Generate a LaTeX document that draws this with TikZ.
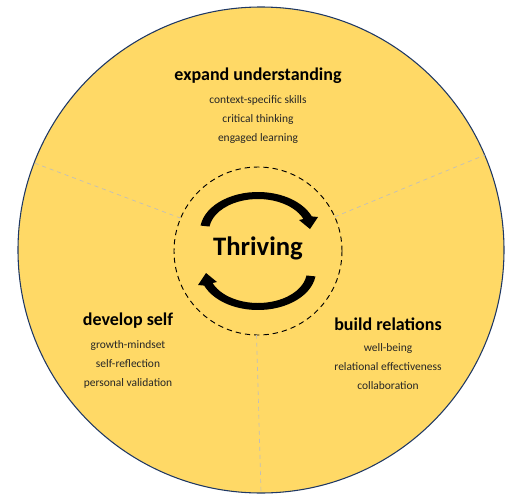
\documentclass[tikz,border=0pt]{standalone}
\usepackage{fontspec}
\setmainfont{Carlito}
\usepackage{xcolor}
\usepackage{tikz}
\usetikzlibrary{positioning}
\definecolor{wheelfill}{RGB}{255,217,102}
\definecolor{wheelline}{RGB}{31,56,100}
\definecolor{divline}{RGB}{190,190,190}

\begin{document}
\begin{tikzpicture}[
    x=0.75pt, y=-0.75pt,
    wheel/.style={circle, draw=wheelline, line width=0.8pt, fill=wheelfill, inner sep=0pt, outer sep=0pt},
    hub/.style={circle, draw, line width=0.7pt, dash pattern=on 4pt off 3pt, inner sep=0pt, outer sep=0pt},
    divider/.style={draw=divline, dashed, line width=0.5pt},
    title/.style={font=\fontsize{13.5}{16}\selectfont\bfseries},
    items/.style={font=\fontsize{8.6}{14.25}\selectfont, align=center, text=black!85},
    turn/.style={fill=black}
  ]
  \useasboundingbox (0,0) rectangle (525,500);

  % Wheel
  \node[wheel, minimum size=364.5pt] (W) at (261,250) {};
  \node[hub, minimum size=126pt] (H) at (258,251) {};

  % Dividers
  \draw[divider] (H.157) -- (W.159);
  \draw[divider] (H.24) -- (W.23);
  \draw[divider] (H.269) -- (W.270);

  % Cycle arrows
  \begin{scope}[shift={(258,251)}, yscale=-1]
    \fill[turn, shift={(0,20)}] (172:58 and 39) arc[start angle=172, end angle=22, x radius=58, y radius=39]
      -- (60,14) -- (52,2) -- (41,11) -- (22:49 and 32)
      arc[start angle=22, end angle=172, x radius=49, y radius=32] -- cycle;
  \end{scope}
  \begin{scope}[shift={(258,251)}, yscale=-1, rotate=180]
    \fill[turn, shift={(0,20)}] (172:58 and 39) arc[start angle=172, end angle=22, x radius=58, y radius=39]
      -- (60,14) -- (52,2) -- (41,11) -- (22:49 and 32)
      arc[start angle=22, end angle=172, x radius=49, y radius=32] -- cycle;
  \end{scope}

  % Centre
  \node[font=\fontsize{20}{24}\selectfont\bfseries] (thriving) at (258,248) {Thriving};

  % Sectors
  \node[title] (expand) at (258,76) {expand understanding};
  \node[items] (expandlist) at (258,120) {context-specific skills\\critical thinking\\engaged learning};

  \node[title] (develop) at (128,321) {develop self};
  \node[items] (developlist) at (128,364) {growth-mindset\\self-reflection\\personal validation};

  \node[title] (build) at (388,324) {build relations};
  \node[items] (buildlist) at (388,367) {well-being\\relational effectiveness\\collaboration};
\end{tikzpicture}
\end{document}
